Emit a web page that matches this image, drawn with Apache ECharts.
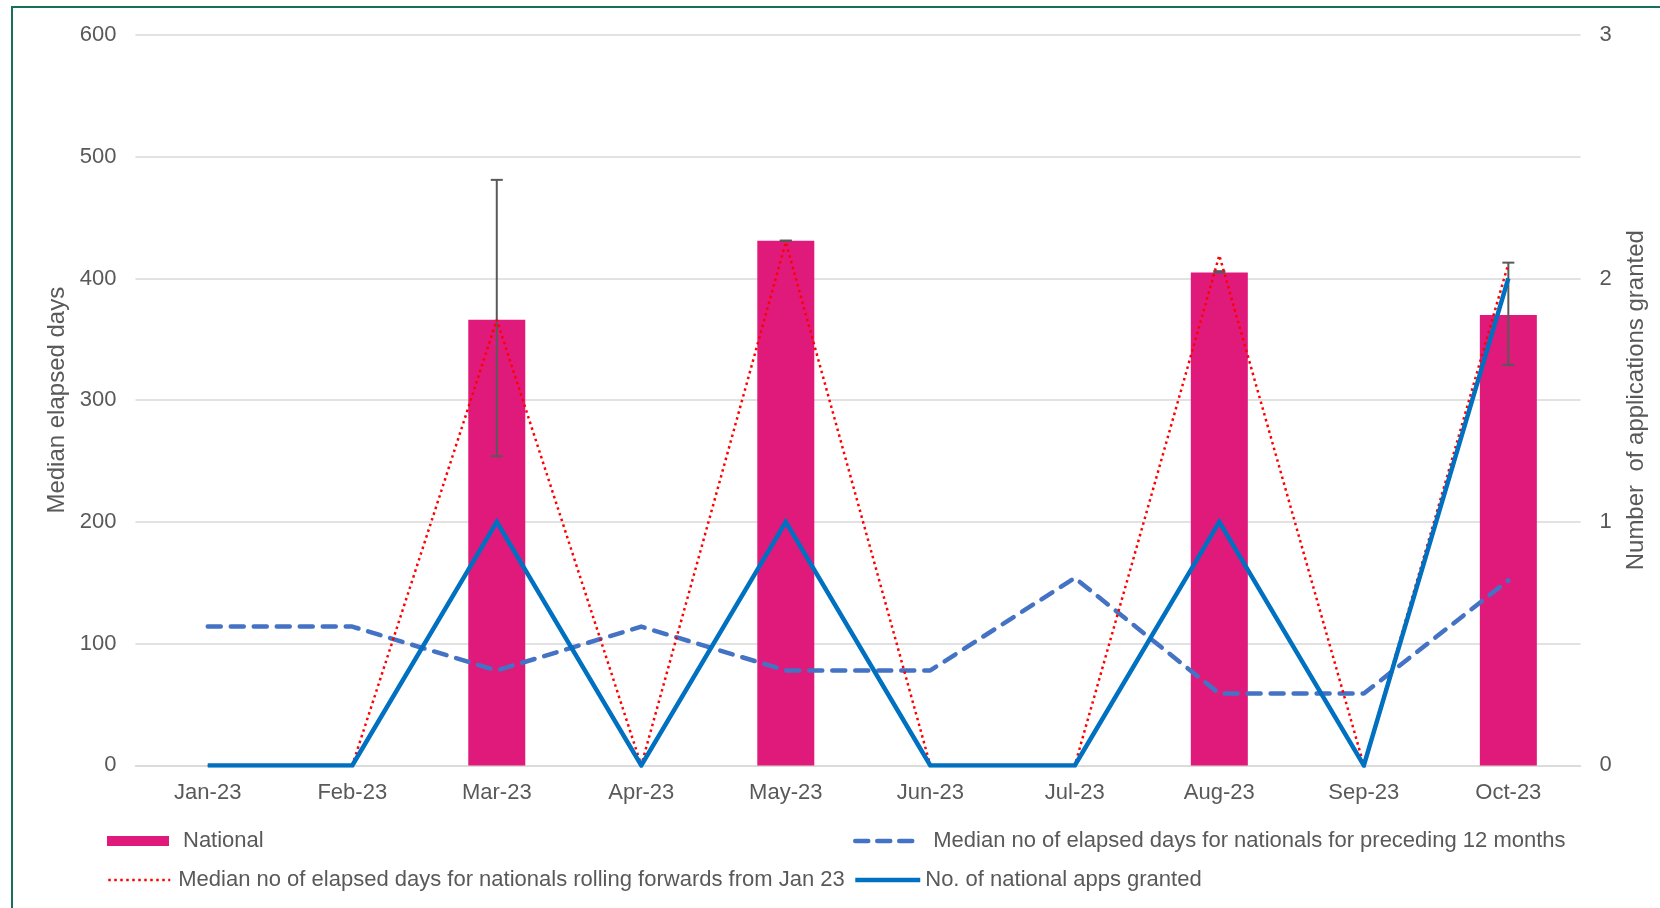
<!DOCTYPE html>
<html>
<head>
<meta charset="utf-8">
<script src="https://cdn.jsdelivr.net/npm/echarts@6/dist/echarts.min.js"></script>
<style>
html,body{margin:0;padding:0;background:#fff;}
#chart{position:absolute;left:0;top:0;width:1660px;height:908px;}
#frame{position:absolute;left:11px;top:6px;width:1700px;height:1000px;border:2.5px solid #17705E;pointer-events:none;box-sizing:border-box;}
</style>
</head>
<body>
<div id="chart"></div>
<div id="frame"></div>
<script>
var categories = ['Jan-23','Feb-23','Mar-23','Apr-23','May-23','Jun-23','Jul-23','Aug-23','Sep-23','Oct-23'];
var nationalDays = [null, null, 366, null, 431, null, null, 405, null, 370];
var errLow  = [null, null, 254, null, 431, null, null, 405, null, 329];
var errHigh = [null, null, 481, null, 431, null, null, 406, null, 413];
var median12Months = [114, 114, 78, 114, 78, 78, 154, 59, 59, 152];
var medianRolling = [0, 0, 366, 0, 430, 0, 0, 419, 0, 412];
var appsGranted = [0, 0, 1, 0, 1, 0, 0, 1, 0, 2];
var leftTicks = {min: 0, max: 600, interval: 100};
var rightTicks = {min: 0, max: 3, interval: 1};

var FONT = '"Liberation Sans", Arial, sans-serif';
var GREY = '#595959';

var errData = [];
for (var i = 0; i < categories.length; i++) {
  if (errLow[i] != null) errData.push([i, errLow[i], errHigh[i]]);
}

var chart = echarts.init(document.getElementById('chart'), null, {renderer: 'canvas'});
chart.setOption({
  backgroundColor: '#ffffff',
  animation: false,
  textStyle: {fontFamily: FONT},
  grid: {left: 135.5, right: 79.4, top: 35, bottom: 142.6, containLabel: false},
  xAxis: {
    type: 'category',
    data: categories,
    boundaryGap: true,
    axisLine: {show: true, lineStyle: {color: '#D9D9D9', width: 1.5}},
    axisTick: {show: false},
    axisLabel: {color: GREY, fontSize: 22, fontFamily: FONT, margin: 17}
  },
  yAxis: [{
    type: 'value',
    min: leftTicks.min, max: leftTicks.max, interval: leftTicks.interval,
    name: 'Median elapsed days',
    nameLocation: 'middle',
    nameGap: 64,
    nameTextStyle: {color: GREY, fontSize: 24, fontFamily: FONT},
    axisLine: {show: false},
    axisTick: {show: false},
    axisLabel: {color: GREY, fontSize: 22, fontFamily: FONT, margin: 19},
    splitLine: {show: true, lineStyle: {color: '#D9D9D9', width: 1.5}}
  }, {
    type: 'value',
    position: 'right',
    min: rightTicks.min, max: rightTicks.max, interval: rightTicks.interval,
    name: 'Number  of applications granted',
    nameLocation: 'middle',
    nameGap: 44,
    nameTextStyle: {color: GREY, fontSize: 24, fontFamily: FONT},
    axisLine: {show: false},
    axisTick: {show: false},
    axisLabel: {color: GREY, fontSize: 22, fontFamily: FONT, margin: 19},
    splitLine: {show: false}
  }],
  legend: [{
    left: 107, top: 830, padding: 0, itemWidth: 62, itemHeight: 10,
    icon: 'rect',
    data: ['National'],
    textStyle: {color: GREY, fontSize: 22, fontFamily: FONT, padding: [0, 0, 0, 9]}
  }, {
    left: 853, top: 830, padding: 0, itemWidth: 64, itemHeight: 10,
    data: ['Median no of elapsed days for nationals for preceding 12 months'],
    itemStyle: {opacity: 0},
    lineStyle: {width: 4.5, type: [13, 9], cap: 'round'},
    textStyle: {color: GREY, fontSize: 22, fontFamily: FONT, padding: [0, 0, 0, 9]}
  }, {
    left: 107, top: 869, padding: 0, itemWidth: 62, itemHeight: 10,
    data: ['Median no of elapsed days for nationals rolling forwards from Jan 23'],
    itemStyle: {opacity: 0},
    lineStyle: {width: 2.5, type: [2.5, 3.5]},
    textStyle: {color: GREY, fontSize: 22, fontFamily: FONT, padding: [0, 0, 0, 3]}
  }, {
    left: 853, top: 869, padding: 0, itemWidth: 65, itemHeight: 10,
    data: ['No. of national apps granted'],
    itemStyle: {opacity: 0},
    lineStyle: {width: 4.5},
    textStyle: {color: GREY, fontSize: 22, fontFamily: FONT, padding: [0, 0, 0, 0]}
  }],
  series: [{
    name: 'National',
    type: 'bar',
    data: nationalDays,
    barWidth: 57,
    itemStyle: {color: '#E01A7B'},
    yAxisIndex: 0
  }, {
    name: 'errorbars',
    type: 'custom',
    data: errData,
    encode: {x: 0, y: [1, 2]},
    yAxisIndex: 0,
    z: 3,
    renderItem: function (params, api) {
      var x = api.value(0), lo = api.value(1), hi = api.value(2);
      var pLo = api.coord([x, lo]);
      var pHi = api.coord([x, hi]);
      var hw = 6;
      var st = {stroke: GREY, lineWidth: 2, fill: null};
      return {
        type: 'group',
        children: [
          {type: 'line', shape: {x1: pLo[0], y1: pLo[1], x2: pHi[0], y2: pHi[1]}, style: st},
          {type: 'line', shape: {x1: pHi[0] - hw, y1: pHi[1], x2: pHi[0] + hw, y2: pHi[1]}, style: st},
          {type: 'line', shape: {x1: pLo[0] - hw, y1: pLo[1], x2: pLo[0] + hw, y2: pLo[1]}, style: st}
        ]
      };
    }
  }, {
    name: 'Median no of elapsed days for nationals for preceding 12 months',
    type: 'line',
    data: median12Months,
    yAxisIndex: 0,
    symbol: 'none',
    z: 4,
    itemStyle: {color: '#4472C4'},
    lineStyle: {color: '#4472C4', width: 4.5, type: [13, 10], cap: 'round', join: 'round'}
  }, {
    name: 'Median no of elapsed days for nationals rolling forwards from Jan 23',
    type: 'line',
    data: medianRolling,
    yAxisIndex: 0,
    symbol: 'none',
    z: 5,
    itemStyle: {color: '#FF0000'},
    lineStyle: {color: '#FF0000', width: 2.5, type: [2.5, 3.5]}
  }, {
    name: 'No. of national apps granted',
    type: 'line',
    data: appsGranted,
    yAxisIndex: 1,
    symbol: 'none',
    z: 6,
    itemStyle: {color: '#0070C0'},
    lineStyle: {color: '#0070C0', width: 4.5, join: 'miter'}
  }]
});
</script>
</body>
</html>
